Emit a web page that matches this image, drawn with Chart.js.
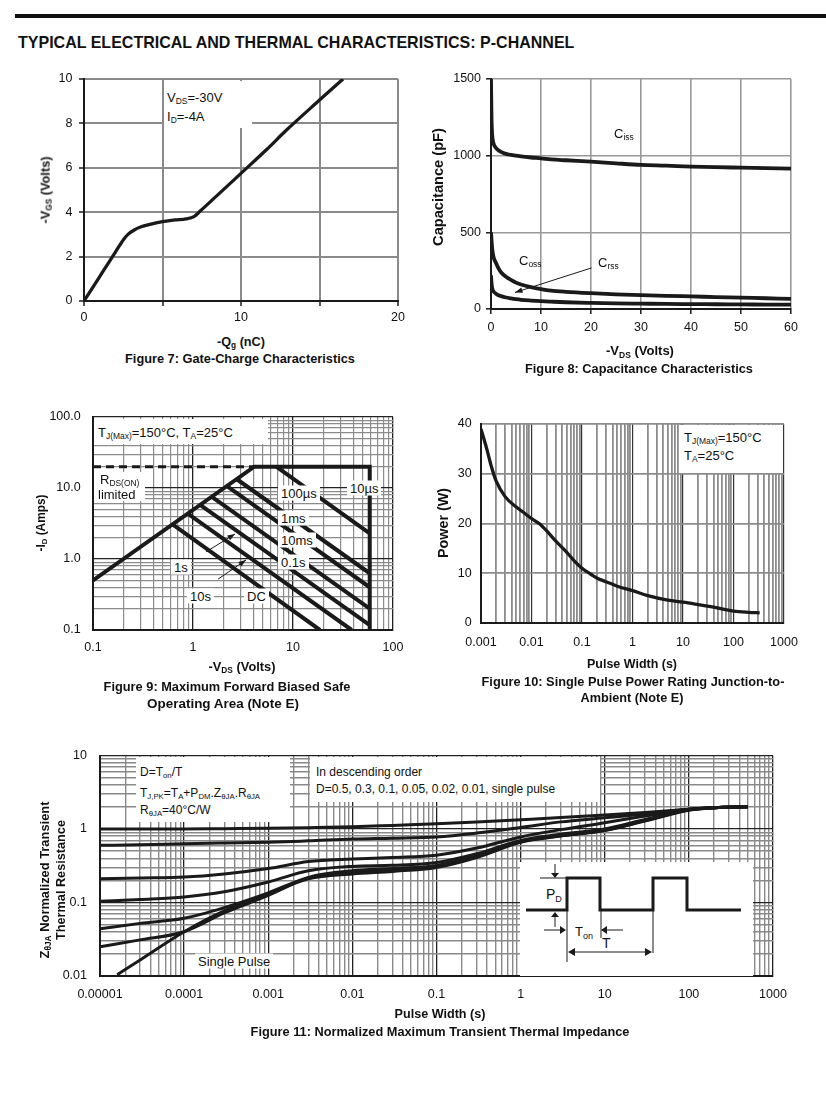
<!DOCTYPE html>
<html>
<head>
<meta charset="utf-8">
<script src="https://cdn.jsdelivr.net/npm/chart.js@4.4.0/dist/chart.umd.min.js"></script>
<style>
  body { margin: 0; background: #fff; width: 826px; height: 1103px; position: relative; overflow: hidden;
         font-family: "Liberation Sans", Arial, sans-serif; color: #111; }
  canvas { position: absolute; }
  .t { position: absolute; white-space: nowrap; line-height: 1; }
  .b { font-weight: bold; }
  .box { position: absolute; background: #fff; }
  sub { font-size: 65%; vertical-align: -0.25em; line-height: 0; }
</style>
</head>
<body>
<div style="position:absolute;left:15px;top:14px;width:811px;height:4px;background:#111"></div>
<canvas id="c7" width="420" height="273" style="left:0;top:60px"></canvas>
<canvas id="c8" width="416" height="281" style="left:410px;top:60px"></canvas>
<canvas id="c9" width="420" height="267" style="left:0;top:395px"></canvas>
<canvas id="c10" width="416" height="255" style="left:410px;top:400px"></canvas>
<canvas id="c11" width="826" height="273" style="left:0;top:735px"></canvas>

<svg id="inset" width="233" height="114" style="position:absolute;left:520px;top:862px">
  <rect x="0" y="0" width="233" height="114" fill="#fff"/>
  <polyline points="6,48 47,48 47,16 80,16 80,48 133,48 133,16 167,16 167,48 221,48" fill="none" stroke="#1a1a1a" stroke-width="3"/>
  <g stroke="#1a1a1a" stroke-width="1" fill="none">
    <line x1="20" y1="16" x2="47" y2="16"/>
    <line x1="35" y1="2" x2="35" y2="12"/>
    <line x1="35" y1="65" x2="35" y2="54"/>
    <line x1="24" y1="68" x2="41" y2="68"/>
    <line x1="103" y1="68" x2="86" y2="68"/>
    <line x1="47" y1="16" x2="47" y2="100"/>
    <line x1="81" y1="48" x2="81" y2="76"/>
    <line x1="133" y1="48" x2="133" y2="91"/>
    <line x1="54" y1="90" x2="126" y2="90"/>
  </g>
  <g fill="#1a1a1a">
    <polygon points="31,11 39,11 35,16"/>
    <polygon points="31,55 39,55 35,50"/>
    <polygon points="40,64 40,72 46,68"/>
    <polygon points="87,64 87,72 81,68"/>
    <polygon points="55,86 55,94 48,90"/>
    <polygon points="125,86 125,94 132,90"/>
  </g>
  <text x="26" y="37" font-family="Liberation Sans, Arial" font-size="14" fill="#111">P<tspan font-size="9" dy="3">D</tspan></text>
  <text x="55" y="74" font-family="Liberation Sans, Arial" font-size="13" fill="#111">T<tspan font-size="9" dy="3">on</tspan></text>
  <text x="82" y="86" font-family="Liberation Sans, Arial" font-size="14" fill="#111">T</text>
</svg>

<script>
const INK = "#1a1a1a";
Chart.defaults.font.family = '"Liberation Sans", Arial, sans-serif';
Chart.defaults.font.size = 12.5;
Chart.defaults.color = "#111";

// Figure 7: gate charge
const qg = [0, 0.5, 1, 1.5, 2, 2.5, 2.8, 3.2, 3.6, 4.2, 5.0, 5.8, 6.5, 7.0, 7.4, 8.4, 10, 11.6, 12.9, 15, 16.5];
const vgs = [0, 0.55, 1.1, 1.65, 2.2, 2.75, 3.0, 3.2, 3.33, 3.45, 3.57, 3.65, 3.7, 3.8, 4.05, 4.7, 5.75, 6.8, 7.7, 9.05, 10];

// Figure 8: capacitance
const vds = [0, 0.1, 0.25, 0.5, 1, 1.5, 2, 3, 4, 5, 6, 8, 10, 12, 15, 20, 25, 30, 35, 40, 45, 50, 55, 60];
const ciss = [1500, 1250, 1130, 1080, 1050, 1035, 1025, 1012, 1005, 1000, 995, 988, 983, 976, 970, 961, 950, 940, 935, 929, 925, 922, 919, 916];
const coss = [500, 450, 390, 340, 300, 265, 240, 210, 190, 172, 160, 143, 130, 120, 112, 103, 96, 91, 86, 82, 78, 74, 70, 66];
const crss = [220, 170, 135, 115, 100, 90, 84, 75, 69, 64, 60, 55, 51, 48, 44, 40, 37, 35, 33, 32, 31, 30, 29, 28];

// Figure 9: safe operating area
const soaEdgeV = [0.1, 4.1, 58.5, 58.5];
const soaEdgeI = [0.5, 20, 20, 0.1];
const rdsV = [0.1, 4.1];
const rdsI = [20, 20];
const soaNames = ["100µs", "1ms", "10ms", "0.1s", "1s", "10s", "DC"];
const soaV0 = [6.8, 2.7, 2.15, 1.52, 1.17, 0.88, 0.62];
const soaI0 = [20, 13.5, 10.8, 7.6, 5.85, 4.4, 3.1];
const soaV1 = [58.5, 58.5, 58.5, 58.5, 58.5, 38.6, 18.6];
const soaI1 = [2.3, 0.63, 0.4, 0.2, 0.117, 0.1, 0.1];

// Figure 10: single pulse power
const pulseW = [0.001, 0.0013, 0.0016, 0.002, 0.003, 0.005, 0.007, 0.01, 0.015, 0.02, 0.03, 0.05, 0.07, 0.1, 0.15, 0.2, 0.3, 0.5, 1, 2, 5, 10, 20, 50, 100, 200, 330];
const pulseP = [39, 35, 31.5, 28.5, 25.4, 23.3, 22.2, 21, 19.8, 18.5, 16.5, 14.2, 12.5, 11, 9.8, 9.0, 8.3, 7.4, 6.5, 5.5, 4.6, 4.2, 3.7, 3.0, 2.4, 2.15, 2.05];

// Figure 11: transient thermal impedance
const zthT = [1e-5, 3e-5, 1e-4, 3e-4, 1e-3, 3e-3, 1e-2, 3e-2, 0.1, 0.3, 1, 3, 10, 30, 100, 200, 500];
const singleT = [1.6e-5, 3e-5, 1e-4, 3e-4, 1e-3, 3e-3, 1e-2, 3e-2, 0.1, 0.3, 1, 3, 10, 30, 100, 200, 500];
const zD05 = [1.0, 1.0, 1.0, 1.01, 1.02, 1.04, 1.07, 1.12, 1.18, 1.25, 1.34, 1.43, 1.55, 1.68, 1.85, 1.95, 2.0];
const zD03 = [0.6, 0.61, 0.63, 0.645, 0.66, 0.69, 0.73, 0.75, 0.78, 0.88, 1.05, 1.25, 1.42, 1.6, 1.85, 1.95, 2.0];
const zD01 = [0.21, 0.215, 0.222, 0.245, 0.29, 0.36, 0.39, 0.41, 0.44, 0.55, 0.78, 0.98, 1.22, 1.5, 1.85, 1.95, 2.0];
const zD005 = [0.104, 0.11, 0.119, 0.14, 0.19, 0.27, 0.31, 0.32, 0.35, 0.46, 0.7, 0.85, 1.0, 1.35, 1.83, 1.95, 2.0];
const zD002 = [0.044, 0.052, 0.061, 0.085, 0.135, 0.22, 0.27, 0.29, 0.32, 0.43, 0.68, 0.82, 0.97, 1.32, 1.83, 1.95, 2.0];
const zD001 = [0.025, 0.031, 0.04, 0.072, 0.125, 0.215, 0.255, 0.275, 0.31, 0.42, 0.67, 0.81, 0.96, 1.3, 1.82, 1.95, 2.0];
const zSingle = [0.0104, 0.0165, 0.04, 0.077, 0.13, 0.21, 0.245, 0.265, 0.30, 0.41, 0.66, 0.8, 0.95, 1.28, 1.8, 1.95, 2.0];

// decade tick labels
const sx9 = ["0.1", "1", "10", "100"];
const sy9 = ["0.1", "1.0", "10.0", "100.0"];
const px10 = ["0.001", "0.01", "0.1", "1", "10", "100", "1000"];
const zx11 = ["0.00001", "0.0001", "0.001", "0.01", "0.1", "1", "10", "100", "1000"];
const zy11 = ["0.01", "0.1", "1", "10"];

function pts(xs, ys) {
  return xs.map((x, i) => ({ x: x, y: ys[i] }));
}
function fixSize(n) {
  return (s) => {
    if (s.isHorizontal()) s.height = n;
    else s.width = n;
  };
}
function isDecade(v) {
  let l = Math.log10(v);
  return Math.abs(l - Math.round(l)) < 1e-6;
}
function logTicks(lo, hi) {
  let out = [];
  for (let e = lo; e < hi; e++) {
    for (let k = 1; k < 10; k++) out.push(Number((k * Math.pow(10, e)).toPrecision(3)));
  }
  out.push(Math.pow(10, hi));
  return out;
}
function logAxis(lo, hi, labels, o) {
  return {
    type: "logarithmic",
    min: Math.pow(10, lo),
    max: Math.pow(10, hi),
    afterBuildTicks: (s) => {
      s.ticks = logTicks(lo, hi).map((v) => ({ value: v }));
    },
    afterFit: fixSize(o.size),
    ticks: {
      autoSkip: false,
      maxRotation: 0,
      padding: o.pad,
      callback: (v) => (isDecade(v) ? labels[Math.round(Math.log10(v)) - lo] : ""),
    },
    grid: {
      color: (c) => (c.tick && isDecade(c.tick.value) ? o.major : o.minor),
      lineWidth: (c) => (c.tick && isDecade(c.tick.value) ? o.majorW : o.minorW),
      drawTicks: false,
    },
    border: { color: INK, width: 2 },
  };
}
function linAxis(min, max, step, every, o) {
  return {
    type: "linear",
    min: min,
    max: max,
    afterFit: fixSize(o.size),
    ticks: {
      stepSize: step,
      autoSkip: false,
      maxRotation: 0,
      padding: o.pad,
      callback: (v) => (v % every === 0 ? v : ""),
    },
    grid: {
      color: o.grid,
      lineWidth: o.gridW,
      drawTicks: o.tick > 0,
      tickLength: o.tick,
      tickColor: INK,
      tickWidth: 1.5,
    },
    border: { color: INK, width: 2 },
  };
}

const arrowPlugin = {
  id: "arrows",
  afterDatasetsDraw(chart, args, opts) {
    const { ctx } = chart;
    const sx = chart.scales.x;
    const sy = chart.scales.y;
    (opts.list || []).forEach(([x1, y1, x2, y2]) => {
      const ax = sx.getPixelForValue(x1), ay = sy.getPixelForValue(y1);
      const bx = sx.getPixelForValue(x2), by = sy.getPixelForValue(y2);
      const ang = Math.atan2(by - ay, bx - ax);
      ctx.save();
      ctx.strokeStyle = INK;
      ctx.fillStyle = INK;
      ctx.lineWidth = 1;
      ctx.beginPath();
      ctx.moveTo(ax, ay);
      ctx.lineTo(bx, by);
      ctx.stroke();
      ctx.beginPath();
      ctx.moveTo(bx, by);
      ctx.lineTo(bx - 8 * Math.cos(ang - 0.35), by - 8 * Math.sin(ang - 0.35));
      ctx.lineTo(bx - 8 * Math.cos(ang + 0.35), by - 8 * Math.sin(ang + 0.35));
      ctx.closePath();
      ctx.fill();
      ctx.restore();
    });
  },
};

function draw(id, datasets, scales, pad, arrows) {
  const ctx = document.getElementById(id).getContext("2d");
  return new Chart(ctx, {
    type: "line",
    data: { datasets: datasets },
    options: {
      responsive: false,
      animation: false,
      layout: { padding: pad },
      scales: scales,
      elements: {
        point: { radius: 0 },
        line: { borderColor: INK, borderWidth: 3.3, cubicInterpolationMode: "monotone" },
      },
      plugins: {
        legend: { display: false },
        tooltip: { enabled: false },
        arrows: { list: arrows || [] },
      },
    },
    plugins: [arrowPlugin],
  });
}

function gateChart() {
  return draw(
    "c7",
    [{ data: pts(qg, vgs), borderWidth: 3.3 }],
    {
      x: linAxis(0, 20, 5, 10, { size: 32, pad: 4.5, tick: 5, grid: "#8a8a8a", gridW: 2 }),
      y: linAxis(0, 10, 2, 2, { size: 84, pad: 6.5, tick: 5, grid: "#8a8a8a", gridW: 2 }),
    },
    { left: 0, top: 19, right: 22, bottom: 0 }
  );
}

function capChart() {
  return draw(
    "c8",
    [
      { data: pts(vds, ciss), borderWidth: 3.8 },
      { data: pts(vds, coss), borderWidth: 3.8 },
      { data: pts(vds, crss), borderWidth: 3.8 },
    ],
    {
      x: linAxis(0, 60, 10, 10, { size: 32, pad: 6.5, tick: 5, grid: "#999", gridW: 1.6 }),
      y: linAxis(0, 1500, 500, 500, { size: 81, pad: 5, tick: 5, grid: "#999", gridW: 1.6 }),
    },
    { left: 0, top: 19, right: 35, bottom: 0 },
    [[20.1, 268, 4.8, 108]]
  );
}

function soaChart() {
  let sets = [
    { data: pts(soaEdgeV, soaEdgeI), borderWidth: 4, tension: 0, cubicInterpolationMode: "default" },
    { data: pts(rdsV, rdsI), borderWidth: 3, borderDash: [8, 5], tension: 0, cubicInterpolationMode: "default" },
  ];
  soaNames.forEach((n, i) => {
    sets.push({
      label: n,
      data: pts([soaV0[i], soaV1[i]], [soaI0[i], soaI1[i]]),
      borderWidth: 4,
      tension: 0,
      cubicInterpolationMode: "default",
    });
  });
  const g = { major: "#222", minor: "#8c8c8c", majorW: 1.3, minorW: 1.2 };
  return draw(
    "c9",
    sets,
    {
      x: logAxis(-1, 2, sx9, Object.assign({ size: 32, pad: 10.5 }, g)),
      y: logAxis(-1, 2, sy9, Object.assign({ size: 93, pad: 12.3 }, g)),
    },
    { left: 0, top: 22, right: 27, bottom: 0 },
    [
      [1.35, 1.26, 2.63, 2.25],
      [1.78, 0.52, 3.39, 0.97],
    ]
  );
}

function powerChart() {
  return draw(
    "c10",
    [{ data: pts(pulseW, pulseP), borderWidth: 3.3 }],
    {
      x: logAxis(-3, 3, px10, { size: 32, pad: 12.5, major: "#333", minor: "#8c8c8c", majorW: 1.2, minorW: 1.8 }),
      y: linAxis(0, 40, 10, 10, { size: 71, pad: 9.3, tick: 0, grid: "#8c8c8c", gridW: 1.8 }),
    },
    { left: 0, top: 24, right: 42, bottom: 0 }
  );
}

function zthChart() {
  const curves = [zD05, zD03, zD01, zD005, zD002, zD001];
  let sets = curves.map((c) => ({ data: pts(zthT, c), borderWidth: 3 }));
  sets.push({ data: pts(singleT, zSingle), borderWidth: 3 });
  const g = { major: "#222", minor: "#8a8a8a", majorW: 1.3, minorW: 1.4 };
  return draw(
    "c11",
    sets,
    {
      x: logAxis(-5, 3, zx11, Object.assign({ size: 32, pad: 11.5 }, g)),
      y: logAxis(-2, 1, zy11, Object.assign({ size: 100, pad: 13 }, g)),
    },
    { left: 0, top: 20, right: 53, bottom: 0 }
  );
}

function box(x, y, w, h) {
  const el = document.createElement("div");
  el.className = "box";
  el.style.cssText = `left:${x}px;top:${y}px;width:${w}px;height:${h}px`;
  document.body.appendChild(el);
}
function txt(html, x, y, o = {}) {
  const el = document.createElement("div");
  const size = o.size || 13;
  el.className = "t" + (o.bold ? " b" : "");
  el.innerHTML = html;
  el.style.fontSize = size + "px";
  el.style.left = x + "px";
  el.style.top = y + "px";
  if (o.bg) {
    el.style.background = "#fff";
    el.style.padding = "1px 3px";
  }
  document.body.appendChild(el);
  if (o.w) el.style.fontSize = (size * o.w) / el.getBoundingClientRect().width + "px";
  el.style.transform = (o.left ? "translate(0,-50%)" : "translate(-50%,-50%)") + (o.rot ? " rotate(-90deg)" : "");
}

function labels() {
  const B = { bold: true, size: 12.5 };
  txt("TYPICAL ELECTRICAL AND THERMAL CHARACTERISTICS: P-CHANNEL", 18, 42, { bold: true, size: 15, left: true, w: 557 });

  // figure 7
  box(164, 81, 88, 47);
  txt("V<sub>DS</sub>=-30V", 167, 97, { left: true });
  txt("I<sub>D</sub>=-4A", 167, 116, { left: true });
  txt("-V<sub>GS</sub> (Volts)", 46, 190, Object.assign({ rot: true, w: 67 }, B));
  txt("-Q<sub>g</sub> (nC)", 241, 342, Object.assign({ w: 48 }, B));
  txt("Figure 7: Gate-Charge Characteristics", 240, 359, Object.assign({ w: 230 }, B));

  // figure 8
  txt("C<sub>iss</sub>", 614, 133, { left: true });
  txt("C<sub>oss</sub>", 519, 260, { left: true });
  txt("C<sub>rss</sub>", 598, 262, { left: true });
  txt("Capacitance (pF)", 438, 187, Object.assign({ rot: true, w: 118 }, B));
  txt("-V<sub>DS</sub> (Volts)", 640, 351, Object.assign({ w: 68 }, B));
  txt("Figure 8: Capacitance Characteristics", 639, 369, Object.assign({ w: 228 }, B));

  // figure 9
  box(94, 419, 174, 25);
  txt("T<sub>J(Max)</sub>=150°C, T<sub>A</sub>=25°C", 98, 432, { left: true });
  box(94, 472, 51, 29);
  txt("R<sub>DS(ON)</sub>", 100, 479, { left: true });
  txt("limited", 98, 494, { left: true });
  const lx = [278, 278, 278, 278, 171, 187, 244];
  const ly = [493, 518, 540, 562, 567, 596, 596];
  soaNames.forEach((n, i) => txt(n, lx[i], ly[i], { left: true, bg: true }));
  txt("10µs", 347, 488, { left: true, bg: true });
  txt("-I<sub>D</sub> (Amps)", 42, 523, Object.assign({ rot: true, w: 57 }, B));
  txt("-V<sub>DS</sub> (Volts)", 242, 667, Object.assign({ w: 67 }, B));
  txt("Figure 9: Maximum Forward Biased Safe", 227, 687, Object.assign({ w: 247 }, B));
  txt("Operating Area (Note E)", 223, 704, Object.assign({ w: 152 }, B));

  // figure 10
  box(679, 425, 104, 48);
  txt("T<sub>J(Max)</sub>=150°C", 684, 437, { left: true });
  txt("T<sub>A</sub>=25°C", 684, 455, { left: true });
  txt("Power (W)", 443, 523, Object.assign({ rot: true, w: 70 }, B));
  txt("Pulse Width (s)", 632, 664, Object.assign({ w: 90 }, B));
  txt("Figure 10: Single Pulse Power Rating Junction-to-", 633, 682, Object.assign({ w: 303 }, B));
  txt("Ambient (Note E)", 632, 698, Object.assign({ w: 103 }, B));

  // figure 11
  box(136, 757, 154, 65);
  txt("D=T<sub>on</sub>/T", 140, 772, { left: true, size: 12 });
  txt("T<sub>J,PK</sub>=T<sub>A</sub>+P<sub>DM</sub>.Z<sub>θJA</sub>.R<sub>θJA</sub>", 140, 793, { left: true, size: 12 });
  txt("R<sub>θJA</sub>=40°C/W", 140, 810, { left: true, size: 12 });
  box(310, 757, 290, 45);
  txt("In descending order", 316, 772, { left: true, size: 12 });
  txt("D=0.5, 0.3, 0.1, 0.05, 0.02, 0.01, single pulse", 316, 789, { left: true, size: 12 });
  txt("Single Pulse", 195, 961, { left: true, bg: true, size: 13 });
  txt("Z<sub>θJA</sub> Normalized Transient", 45, 880, Object.assign({ rot: true, w: 157 }, B));
  txt("Thermal Resistance", 61, 880, Object.assign({ rot: true, w: 120 }, B));
  txt("Pulse Width (s)", 440, 1014, Object.assign({ w: 91 }, B));
  txt("Figure 11: Normalized Maximum Transient Thermal Impedance", 440, 1032, Object.assign({ w: 379 }, B));
  document.body.appendChild(document.getElementById("inset"));
}

gateChart();
capChart();
soaChart();
powerChart();
zthChart();
labels();
</script>
</body>
</html>
